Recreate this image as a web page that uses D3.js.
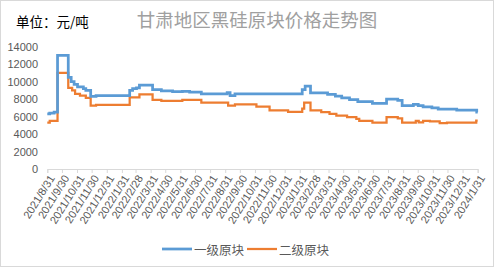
<!DOCTYPE html>
<html><head><meta charset="utf-8">
<script src="https://cdn.jsdelivr.net/npm/d3@7/dist/d3.min.js"></script>
<style>
html,body{margin:0;padding:0;background:#fff;}
svg{display:block;}
</style></head>
<body>
<svg id="c" width="494" height="267"></svg>
<script>
const title = "甘肃地区黑硅原块价格走势图";
const unitLabel = "单位：元/吨";
const seriesNames = ["一级原块", "二级原块"];
const yTicks = [0, 2000, 4000, 6000, 8000, 10000, 12000, 14000];
const xTickLabels = ["2021/8/31","2021/9/30","2021/10/31","2021/11/30","2021/12/31","2022/1/31","2022/2/28","2022/3/31","2022/4/30","2022/5/31","2022/6/30","2022/7/31","2022/8/31","2022/9/30","2022/10/31","2022/11/30","2022/12/31","2023/1/31","2023/2/28","2023/3/31","2023/4/30","2023/5/31","2023/6/30","2023/7/31","2023/8/31","2023/9/30","2023/10/31","2023/11/30","2023/12/31","2024/1/31"];

// 一级原块: price change dates and values
const grade1Dates = ["2021-08-31","2021-09-05","2021-09-14","2021-09-21","2021-10-13","2021-10-19","2021-10-25","2021-11-01","2021-11-13","2021-11-18","2021-11-28","2021-12-09","2022-02-16","2022-02-22","2022-03-02","2022-03-08","2022-04-04","2022-04-22","2022-05-15","2022-06-04","2022-06-19","2022-07-13","2022-09-04","2022-09-10","2022-09-20","2023-02-05","2023-02-11","2023-02-22","2023-03-29","2023-04-14","2023-04-27","2023-05-13","2023-05-30","2023-06-29","2023-07-28","2023-08-20","2023-08-29","2023-09-21","2023-10-01","2023-10-11","2023-10-29","2023-11-11","2023-12-19","2024-01-29","2024-01-31"];
const grade1Values = [6300,6400,6500,13000,10500,10000,9700,9400,9200,9000,8300,8400,9000,9200,9300,9600,9100,8950,8850,8900,8800,8600,8750,8400,8600,9100,9500,8700,8550,8350,8150,7950,7700,7500,8000,7850,7250,7400,7250,7100,7000,6850,6750,6500,6500];

// 二级原块
const grade2Dates = ["2021-08-31","2021-09-05","2021-09-21","2021-10-13","2021-10-21","2021-10-27","2021-11-06","2021-11-18","2021-11-28","2021-12-09","2022-02-16","2022-03-08","2022-04-04","2022-04-22","2022-06-04","2022-07-13","2022-09-06","2022-09-20","2022-11-03","2022-11-30","2023-01-07","2023-02-05","2023-02-09","2023-02-22","2023-03-16","2023-04-02","2023-04-16","2023-05-08","2023-05-27","2023-06-02","2023-06-29","2023-07-28","2023-08-20","2023-08-29","2023-09-26","2023-10-02","2023-10-11","2023-10-25","2023-11-14","2023-11-29","2024-01-28","2024-01-31"];
const grade2Values = [5300,5500,11000,9300,9000,8600,8400,8150,7250,7350,8200,8550,7900,7800,7900,7600,7250,7400,7150,6700,6550,6900,7600,6700,6500,6300,6100,5950,5750,5500,5300,5950,5800,5300,5500,5350,5500,5450,5250,5300,5550,5550];

const colors = ["#5b9bd5", "#ed7d31"];

const svg = d3.select("#c");
const W = 494, H = 267;
const parseISO = d3.timeParse("%Y-%m-%d");
const parseLbl = d3.timeParse("%Y/%m/%d");
const tickDates = xTickLabels.map(parseLbl);

const x = d3.scaleTime().domain([tickDates[0], tickDates[tickDates.length-1]]).range([47.3, 477.7]);
const y = d3.scaleLinear().domain([0, 14000]).range([169, 46.7]);

// border
svg.append("rect").attr("x",0.5).attr("y",0.5).attr("width",W-1).attr("height",H-1)
  .attr("fill","#fff").attr("stroke","#d9d9d9");

// title
svg.append("text").attr("x",257).attr("y",19).attr("text-anchor","middle")
  .attr("dominant-baseline","central")
  .style("font-family","'Noto Sans CJK SC', sans-serif").style("font-size","18.5px")
  .attr("fill","#a0a0a0").text(title);
svg.append("text").attr("x",16).attr("y",21).attr("dominant-baseline","central")
  .style("font-family","'Noto Sans CJK SC', sans-serif").style("font-size","13.5px")
  .attr("fill","#000").text(unitLabel);

// y axis
const yAxis = d3.axisLeft(y).tickValues(yTicks).tickSize(0).tickPadding(0).tickFormat(d3.format("d"));
const gy = svg.append("g").attr("transform","translate(38,0)").call(yAxis);
gy.select(".domain").remove();
gy.selectAll("text").style("font-family","'Liberation Sans', Arial, sans-serif")
  .style("font-size","11px").attr("fill","#595959");

// x axis
const xAxis = d3.axisBottom(x).tickValues(tickDates).tickSize(4).tickFormat((d,i)=>xTickLabels[i]);
const gx = svg.append("g").attr("transform","translate(0,169)").call(xAxis);
gx.select(".domain").attr("stroke","#d9d9d9");
gx.selectAll(".tick line").attr("stroke","#d9d9d9");
gx.selectAll("text")
  .style("font-family","'Liberation Sans', Arial, sans-serif").style("font-size","11px")
  .attr("fill","#595959")
  .attr("text-anchor","end")
  .attr("dy",null).attr("y",null)
  .attr("transform","translate(4,7) rotate(-58)")
  .attr("dominant-baseline","central");

// lines
const line = d3.line().x(d=>x(d[0])).y(d=>y(d[1])).curve(d3.curveStepAfter);
const series = [
  grade1Dates.map((d,i)=>[parseISO(d), grade1Values[i]]),
  grade2Dates.map((d,i)=>[parseISO(d), grade2Values[i]])
];
svg.append("path").datum(series[1]).attr("d",line).attr("fill","none")
  .attr("stroke",colors[1]).attr("stroke-width",2.25);
svg.append("path").datum(series[0]).attr("d",line).attr("fill","none")
  .attr("stroke",colors[0]).attr("stroke-width",2.75);

// legend
const legend = [{x1:162,x2:192,tx:194},{x1:247,x2:277,tx:279}];
legend.forEach((l,i)=>{
  svg.append("line").attr("x1",l.x1).attr("x2",l.x2).attr("y1",249).attr("y2",249)
    .attr("stroke",colors[i]).attr("stroke-width",i===0?2.75:2.25);
  svg.append("text").attr("x",l.tx).attr("y",249).attr("dominant-baseline","central")
    .style("font-family","'Noto Sans CJK SC', sans-serif").style("font-size","12.5px")
    .attr("fill","#595959").text(seriesNames[i]);
});
</script>
</body></html>
